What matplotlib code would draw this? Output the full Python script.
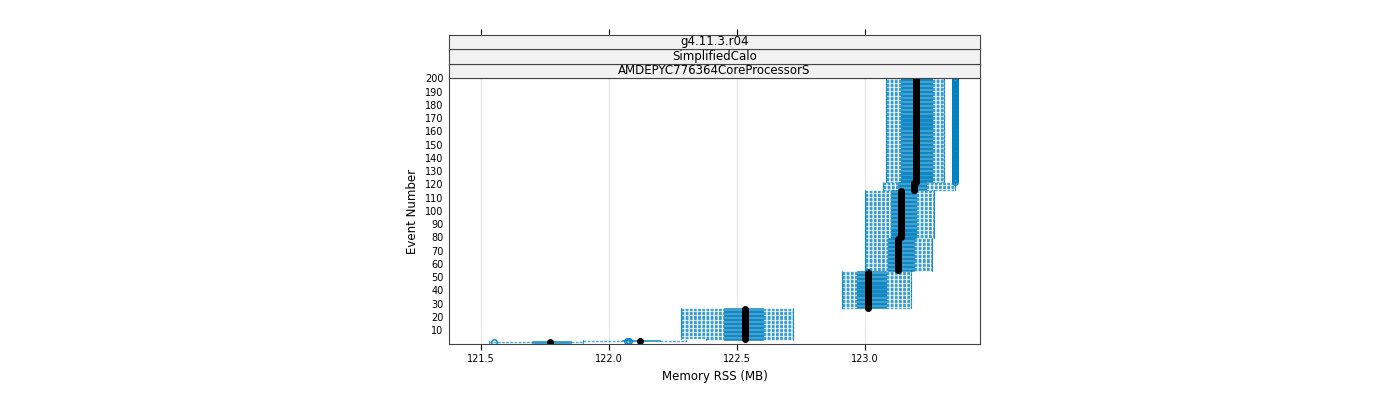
import numpy as np
import matplotlib.pyplot as plt
from matplotlib.patches import Rectangle

# piecewise summary per group of events: (first, last, whisk_lo, q1, median, q3, whisk_hi)
ev_first = [1, 2, 3, 4, 27, 55, 80, 116, 122]
ev_last = [1, 2, 3, 26, 54, 79, 115, 121, 200]
whisk_lo = [121.53, 121.90, 122.38, 122.28, 122.91, 123.00, 123.00, 123.07, 123.08]
q1 = [121.70, 122.05, 122.45, 122.45, 122.97, 123.09, 123.10, 123.13, 123.14]
median = [121.77, 122.12, 122.53, 122.53, 123.01, 123.13, 123.14, 123.19, 123.20]
q3 = [121.85, 122.20, 122.60, 122.60, 123.08, 123.19, 123.20, 123.24, 123.26]
whisk_hi = [121.90, 122.30, 122.72, 122.72, 123.18, 123.26, 123.27, 123.35, 123.31]
outlier_x = [121.55, 122.07, 122.08, 123.35]
outlier_first = [1, 2, 2, 122]
outlier_last = [1, 2, 2, 200]

blue = '#0080C0'
fig = plt.figure(figsize=(14, 4), dpi=100)
ax = fig.add_axes([449/1400, 56/400, 531/1400, 266/400])

for i in range(len(ev_first)):
    for ev in range(ev_first[i], ev_last[i] + 1):
        ax.plot([whisk_lo[i], q1[i]], [ev, ev], color=blue, lw=1, ls=(0, (2, 1)), alpha=0.7)
        ax.plot([q3[i], whisk_hi[i]], [ev, ev], color=blue, lw=1, ls=(0, (2, 1)), alpha=0.7)
        ax.plot([whisk_lo[i]] * 2, [ev - 0.4, ev + 0.4], color=blue, lw=0.8, alpha=0.7)
        ax.plot([whisk_hi[i]] * 2, [ev - 0.4, ev + 0.4], color=blue, lw=0.8, alpha=0.7)
        ax.add_patch(Rectangle((q1[i], ev - 0.4), q3[i] - q1[i], 0.8, facecolor=blue,
                               edgecolor=blue, lw=0.5, alpha=0.8))
    evs = np.arange(ev_first[i], ev_last[i] + 1)
    ax.plot(np.full(len(evs), median[i]), evs, 'o', color='black', ms=4)
for x, a, b in zip(outlier_x, outlier_first, outlier_last):
    evs = np.arange(a, b + 1)
    ax.plot(np.full(len(evs), x), evs, 'o', mfc='none', mec=blue, ms=4)

xticks = [121.5, 122.0, 122.5, 123.0]
ax.set_xlim(121.375, 123.449)
ax.set_ylim(-0.5, 200.2)
ax.set_xticks(xticks)
ax.set_xticklabels(['121.5', '122.0', '122.5', '123.0'], fontsize=7)
ax.set_yticks(range(10, 201, 10))
ax.set_yticklabels([str(v) for v in range(10, 201, 10)], fontsize=7)
ax.tick_params(axis='y', length=0, pad=4)
ax.tick_params(axis='x', length=4, top=False)
for x in xticks:
    ax.axvline(x, color='#e6e6e6', lw=0.8, zorder=0)
for s in ax.spines.values():
    s.set_color('#444444')
ax.set_xlabel('Memory RSS (MB)', fontsize=8.5)
ax.set_ylabel('Event Number', fontsize=8.5)

# strips on top
labels = ['AMDEPYC776364CoreProcessorS', 'SimplifiedCalo', 'g4.11.3.r04']
for k, lab in enumerate(labels):
    y0 = (400 - 78 + k * 14.5) / 400
    sax = fig.add_axes([449/1400, y0, 531/1400, 14.5/400])
    sax.set_facecolor('#f2f2f2')
    sax.set_xticks([]); sax.set_yticks([])
    for s in sax.spines.values():
        s.set_color('#444444')
    sax.text(0.5, 0.5, lab, ha='center', va='center', fontsize=8.5, transform=sax.transAxes)
    if k == 2:
        sax.set_xlim(ax.get_xlim())
        sax.set_xticks(xticks)
        sax.tick_params(axis='x', top=True, bottom=False, labeltop=False, labelbottom=False, length=4)

fig.savefig('out.png')
